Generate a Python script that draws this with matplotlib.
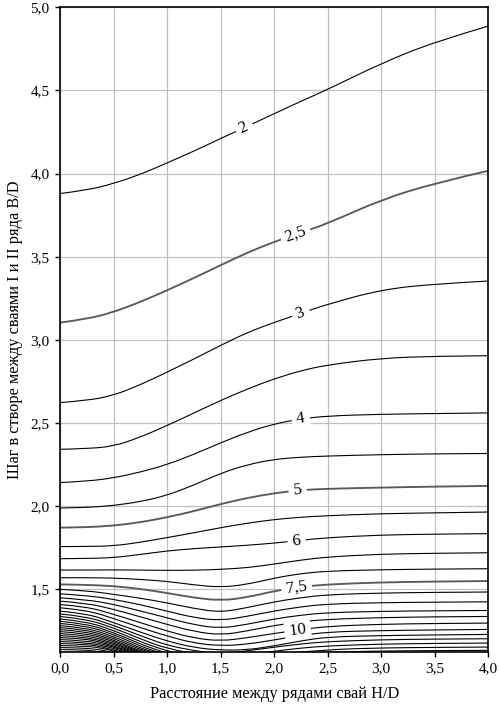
import numpy as np
import matplotlib
matplotlib.use("Agg")
import matplotlib.pyplot as plt
from matplotlib.path import Path
from matplotlib.patches import PathPatch

plt.rcParams["font.family"] = ["Liberation Serif", "DejaVu Serif"]

x_grid = [0.0, 0.25, 0.5, 0.75, 1.0, 1.25, 1.5, 1.75, 2.0, 2.25, 2.5, 3.0, 3.5, 4.0]

# B/D of each isoline at x_grid
lvl_2_0 = [3.880, 3.900, 3.940, 3.995, 4.064, 4.135, 4.211, 4.285, 4.360, 4.435, 4.506, 4.663, 4.793, 4.887]
lvl_2_5 = [3.104, 3.125, 3.167, 3.228, 3.298, 3.372, 3.449, 3.525, 3.590, 3.645, 3.700, 3.843, 3.943, 4.017]
lvl_3_0 = [2.623, 2.635, 2.666, 2.730, 2.806, 2.885, 2.967, 3.045, 3.105, 3.160, 3.215, 3.302, 3.337, 3.354]
lvl_3_5 = [2.342, 2.346, 2.360, 2.415, 2.485, 2.560, 2.636, 2.705, 2.766, 2.815, 2.850, 2.890, 2.902, 2.905]
lvl_4_0 = [2.142, 2.150, 2.170, 2.205, 2.250, 2.312, 2.381, 2.445, 2.495, 2.525, 2.543, 2.553, 2.557, 2.561]
lvl_4_5 = [1.989, 1.992, 2.004, 2.027, 2.065, 2.127, 2.198, 2.250, 2.282, 2.295, 2.302, 2.310, 2.315, 2.317]
lvl_5_0 = [1.871, 1.873, 1.883, 1.903, 1.933, 1.970, 2.013, 2.050, 2.078, 2.097, 2.105, 2.112, 2.118, 2.122]
lvl_5_5 = [1.757, 1.758, 1.761, 1.783, 1.811, 1.840, 1.871, 1.898, 1.920, 1.934, 1.943, 1.955, 1.960, 1.965]
lvl_6_0 = [1.684, 1.686, 1.690, 1.710, 1.731, 1.745, 1.755, 1.765, 1.778, 1.795, 1.811, 1.827, 1.832, 1.835]
lvl_6_5 = [1.616, 1.616, 1.617, 1.616, 1.614, 1.615, 1.620, 1.630, 1.652, 1.676, 1.695, 1.712, 1.717, 1.720]
lvl_7_0 = [1.570, 1.570, 1.568, 1.560, 1.548, 1.527, 1.512, 1.530, 1.568, 1.595, 1.610, 1.618, 1.622, 1.624]
lvl_7_5 = [1.530, 1.527, 1.520, 1.503, 1.478, 1.450, 1.432, 1.452, 1.490, 1.515, 1.530, 1.542, 1.547, 1.550]
lvl_8_0 = [1.500, 1.492, 1.470, 1.447, 1.419, 1.385, 1.362, 1.390, 1.425, 1.450, 1.468, 1.478, 1.482, 1.484]
lvl_8_5 = [1.473, 1.463, 1.440, 1.408, 1.369, 1.330, 1.312, 1.338, 1.370, 1.395, 1.412, 1.420, 1.423, 1.425]
lvl_9_0 = [1.449, 1.438, 1.410, 1.370, 1.329, 1.287, 1.265, 1.290, 1.322, 1.345, 1.360, 1.368, 1.371, 1.373]
lvl_9_5 = [1.429, 1.417, 1.380, 1.335, 1.289, 1.247, 1.225, 1.250, 1.283, 1.305, 1.320, 1.330, 1.335, 1.337]
lvl_10_0 = [1.409, 1.396, 1.350, 1.300, 1.249, 1.207, 1.189, 1.209, 1.235, 1.257, 1.278, 1.290, 1.295, 1.297]
lvl_10_5 = [1.389, 1.375, 1.325, 1.270, 1.219, 1.177, 1.160, 1.170, 1.196, 1.222, 1.244, 1.252, 1.256, 1.259]
lvl_11_0 = [1.369, 1.355, 1.300, 1.243, 1.189, 1.150, 1.134, 1.136, 1.160, 1.190, 1.214, 1.222, 1.226, 1.229]

full_levels = [2.0, 2.5, 3.0, 3.5, 4.0, 4.5, 5.0, 5.5, 6.0, 6.5, 7.0, 7.5, 8.0, 8.5, 9.0, 9.5, 10.0, 10.5, 11.0]
full_lines = [lvl_2_0, lvl_2_5, lvl_3_0, lvl_3_5, lvl_4_0, lvl_4_5, lvl_5_0, lvl_5_5, lvl_6_0,
              lvl_6_5, lvl_7_0, lvl_7_5, lvl_8_0, lvl_8_5, lvl_9_0, lvl_9_5, lvl_10_0, lvl_10_5, lvl_11_0]

# isolines that leave the left edge and run into the bottom edge, (H/D, B/D)
left_11_5 = [(0, 1.352), (0.25, 1.337), (0.5, 1.283), (0.75, 1.222), (1.0, 1.163), (1.25, 1.132), (1.38, 1.12)]
left_12_0 = [(0, 1.337), (0.25, 1.321), (0.5, 1.268), (0.75, 1.203), (1.0, 1.142), (1.2, 1.12)]
left_12_5 = [(0, 1.322), (0.25, 1.306), (0.5, 1.253), (0.75, 1.186), (0.9, 1.15), (1.06, 1.12)]
left_13_0 = [(0, 1.308), (0.25, 1.293), (0.5, 1.240), (0.75, 1.172), (0.85, 1.148), (0.98, 1.12)]
left_13_5 = [(0, 1.295), (0.25, 1.281), (0.5, 1.228), (0.7, 1.174), (0.8, 1.146), (0.93, 1.12)]
left_14_0 = [(0, 1.282), (0.25, 1.269), (0.5, 1.216), (0.7, 1.162), (0.8, 1.136), (0.89, 1.12)]
left_14_5 = [(0, 1.270), (0.25, 1.258), (0.5, 1.205), (0.65, 1.165), (0.75, 1.139), (0.85, 1.12)]
left_15_0 = [(0, 1.258), (0.25, 1.247), (0.5, 1.195), (0.65, 1.155), (0.73, 1.135), (0.81, 1.12)]
left_15_5 = [(0, 1.246), (0.25, 1.236), (0.5, 1.186), (0.6, 1.16), (0.7, 1.136), (0.78, 1.12)]
left_16_0 = [(0, 1.234), (0.25, 1.225), (0.5, 1.177), (0.6, 1.152), (0.68, 1.135), (0.75, 1.12)]
left_16_5 = [(0, 1.222), (0.25, 1.214), (0.5, 1.169), (0.6, 1.145), (0.66, 1.133), (0.72, 1.12)]
left_17_0 = [(0, 1.210), (0.25, 1.203), (0.45, 1.170), (0.55, 1.148), (0.63, 1.133), (0.69, 1.12)]
left_17_5 = [(0, 1.198), (0.25, 1.192), (0.45, 1.162), (0.55, 1.142), (0.6, 1.133), (0.66, 1.12)]
left_18_0 = [(0, 1.186), (0.25, 1.181), (0.45, 1.154), (0.52, 1.14), (0.63, 1.12)]
left_18_5 = [(0, 1.174), (0.25, 1.170), (0.4, 1.153), (0.5, 1.135), (0.59, 1.12)]
left_19_0 = [(0, 1.162), (0.25, 1.159), (0.4, 1.145), (0.48, 1.132), (0.55, 1.12)]
left_19_5 = [(0, 1.150), (0.2, 1.148), (0.35, 1.139), (0.45, 1.127), (0.5, 1.12)]
left_20_0 = [(0, 1.138), (0.2, 1.136), (0.32, 1.13), (0.42, 1.12)]

left_levels = [11.5, 12.0, 12.5, 13.0, 13.5, 14.0, 14.5, 15.0, 15.5, 16.0, 16.5, 17.0, 17.5, 18.0, 18.5, 19.0, 19.5, 20.0]
left_lines = [left_11_5, left_12_0, left_12_5, left_13_0, left_13_5, left_14_0, left_14_5, left_15_0, left_15_5,
              left_16_0, left_16_5, left_17_0, left_17_5, left_18_0, left_18_5, left_19_0, left_19_5, left_20_0]

# isolines that rise from the bottom edge to the right edge
right_11_5 = [(1.62, 1.12), (1.8, 1.135), (2.0, 1.152), (2.25, 1.172), (2.5, 1.186), (3.0, 1.197), (3.5, 1.201), (4.0, 1.203)]
right_12_0 = [(1.9, 1.12), (2.0, 1.128), (2.25, 1.147), (2.5, 1.160), (3.0, 1.171), (3.5, 1.175), (4.0, 1.177)]
right_12_5 = [(2.2, 1.12), (2.5, 1.138), (3.0, 1.148), (3.5, 1.151), (4.0, 1.153)]
right_13_0 = [(2.5, 1.12), (2.75, 1.126), (3.0, 1.129), (3.5, 1.132), (4.0, 1.133)]

right_levels = [11.5, 12.0, 12.5, 13.0]
right_lines = [right_11_5, right_12_0, right_12_5, right_13_0]

# inline labels: level, text, H/D where it sits
label_levels = [2.0, 2.5, 3.0, 4.0, 5.0, 6.0, 7.5, 10.0]
label_texts = ["2", "2,5", "3", "4", "5", "6", "7,5", "10"]
label_at_x = [1.72, 2.20, 2.25, 2.25, 2.22, 2.21, 2.21, 2.22]

x_ticks = [0.0, 0.5, 1.0, 1.5, 2.0, 2.5, 3.0, 3.5, 4.0]
x_tick_labels = ["0,0", "0,5", "1,0", "1,5", "2,0", "2,5", "3,0", "3,5", "4,0"]
y_ticks = [1.5, 2.0, 2.5, 3.0, 3.5, 4.0, 4.5, 5.0]
y_tick_labels = ["1,5", "2,0", "2,5", "3,0", "3,5", "4,0", "4,5", "5,0"]

BOLD_LEVELS = (2.5, 5.0, 7.5)


def style(level):
    if level in BOLD_LEVELS:
        return dict(edgecolor="#5a5a5a", lw=1.35)
    return dict(edgecolor="black", lw=0.8)


def smooth_path(xs, ys):
    # quadratic B-spline: the read points act as control points, so the
    # drawn isoline has no corners (like the smoothed curves of the source)
    pts = np.column_stack([xs, ys])
    verts = [pts[0]]
    codes = [Path.MOVETO]
    for i in range(1, len(pts) - 1):
        mid = (pts[i] + pts[i + 1]) / 2 if i < len(pts) - 2 else pts[i + 1]
        verts += [pts[i], mid]
        codes += [Path.CURVE3, Path.CURVE3]
    if len(pts) == 2:
        verts.append(pts[1])
        codes.append(Path.LINETO)
    return Path(verts, codes)


def draw_line(ax, xs, ys, level):
    patch = PathPatch(smooth_path(xs, ys), facecolor="none", capstyle="butt",
                      zorder=2, **style(level))
    ax.add_patch(patch)


fig = plt.figure(figsize=(4.99, 7.09), dpi=100)
ax = fig.add_axes([0.1202, 0.0808, 0.8584, 0.9089])

for level, ys in zip(full_levels, full_lines):
    draw_line(ax, x_grid, ys, level)

for level, pts in zip(left_levels + right_levels, left_lines + right_lines):
    xs, ys = zip(*pts)
    draw_line(ax, xs, ys, level)

ax.set_xlim(0, 4)
ax.set_ylim(1.125, 5.0)

ax.set_xticks(x_ticks)
ax.set_xticklabels(x_tick_labels)
ax.set_yticks(y_ticks)
ax.set_yticklabels(y_tick_labels)
ax.tick_params(direction="out", length=3.5, width=1, labelsize=11, pad=4, colors="black")

ax.grid(True, color="#c0c0c0", lw=0.9, zorder=0)
ax.set_axisbelow(True)
for sp in ax.spines.values():
    sp.set_linewidth(1.2)
    sp.set_color("black")

ax.set_xlabel("Расстояние между рядами свай H/D", fontsize=11.8, labelpad=8)
ax.set_ylabel("Шаг в створе между сваями I и II ряда B/D", fontsize=11.8, labelpad=5)

# contour labels, rotated along the local slope of their line
for level, text, lx in zip(label_levels, label_texts, label_at_x):
    ys = full_lines[full_levels.index(level)]
    ly = np.interp(lx, x_grid, ys)
    p1 = ax.transData.transform((lx - 0.1, np.interp(lx - 0.1, x_grid, ys)))
    p2 = ax.transData.transform((lx + 0.1, np.interp(lx + 0.1, x_grid, ys)))
    ang = np.degrees(np.arctan2(p2[1] - p1[1], p2[0] - p1[0]))
    ax.text(lx, ly, f" {text} ", fontsize=12, rotation=ang, rotation_mode="anchor",
            ha="center", va="center", zorder=3,
            bbox=dict(boxstyle="square,pad=0.05", fc="white", ec="none"))

fig.savefig("out.png", dpi=100)
